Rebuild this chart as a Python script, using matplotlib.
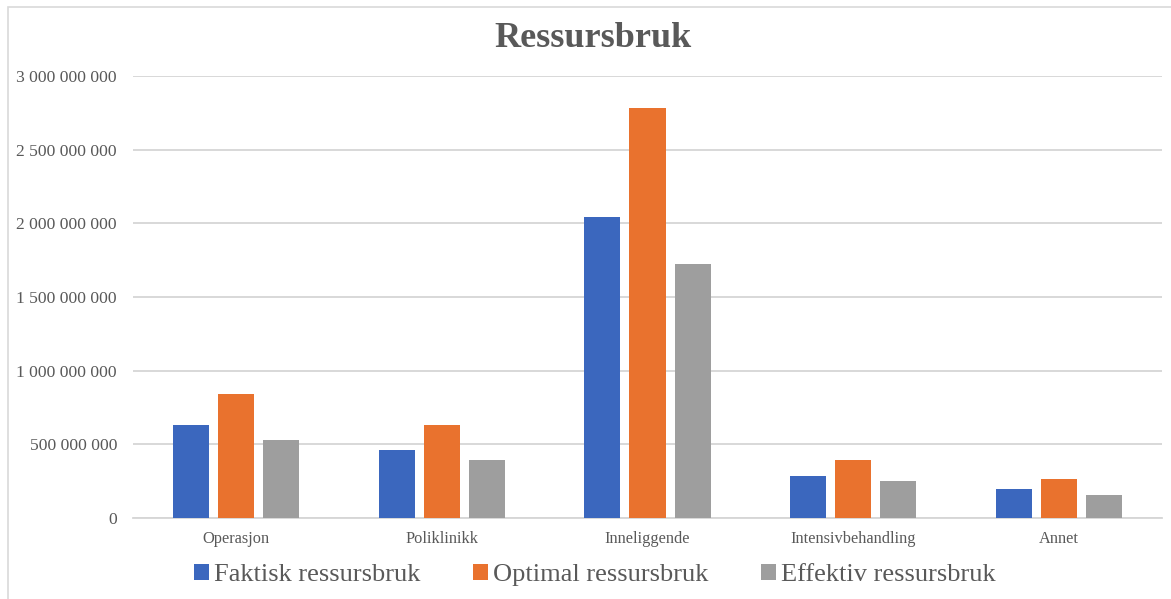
import numpy as np
import matplotlib.pyplot as plt
from matplotlib.patches import Rectangle
from matplotlib.ticker import FuncFormatter

categories = ['Operasjon', 'Poliklinikk', 'Inneliggende', 'Intensivbehandling', 'Annet']
faktisk = [632e6, 462e6, 2043e6, 287e6, 195e6]
optimal = [842e6, 631e6, 2783e6, 394e6, 263e6]
effektiv = [530e6, 394e6, 1724e6, 249e6, 156e6]
series = [('Faktisk ressursbruk', faktisk, '#3B67BE'),
          ('Optimal ressursbruk', optimal, '#E9722E'),
          ('Effektiv ressursbruk', effektiv, '#9E9E9E')]

plt.rcParams['font.family'] = ['Liberation Serif', 'DejaVu Serif']

fig = plt.figure(figsize=(11.71, 5.99), dpi=100)
ax = fig.add_axes([0.1136, 0.1352, 0.8787, 0.7379])

# light frame around the chart area
W, H = 1171, 599
fig.patches.append(Rectangle((8 / W, -0.01), 1.1, 1 - 7 / H + 0.01, transform=fig.transFigure,
                             fill=False, edgecolor='#D9D9D9', linewidth=1.2))

x = np.arange(len(categories))
width = 0.175
step = 0.219
for i, (name, vals, color) in enumerate(series):
    ax.bar(x + (i - 1) * step, vals, width, color=color, label=name, zorder=3)

ax.set_xlim(-0.5, len(categories) - 0.5)
ax.set_ylim(0, 3e9)
ax.set_yticks(np.arange(0, 3.01e9, 5e8))
ax.yaxis.set_major_formatter(FuncFormatter(lambda v, p: f'{int(v):,}'.replace(',', ' ')))
ax.set_xticks(x)
ax.set_xticklabels(categories)

ax.grid(axis='y', color='#D6D6D6', linewidth=1.3, zorder=0)
for s in ['top', 'right', 'left']:
    ax.spines[s].set_visible(False)
ax.spines['bottom'].set_color('#D6D6D6')
ax.spines['bottom'].set_linewidth(1.3)
ax.tick_params(axis='y', length=0, pad=11.5, labelsize=12.6, labelcolor='#595959')
ax.tick_params(axis='x', length=0, pad=9, labelsize=11.8, labelcolor='#595959')

fig.text(0.506, 0.935, 'Ressursbruk', ha='center', va='center', fontsize=26,
         fontweight='bold', color='#595959')

fig.legend(loc='center', bbox_to_anchor=(0.508, 0.04), ncol=3, frameon=False,
           fontsize=19, handlelength=0.55, handleheight=0.55, handletextpad=0.2,
           columnspacing=2.0, labelcolor='#595959')

fig.savefig('out.png', dpi=100)
